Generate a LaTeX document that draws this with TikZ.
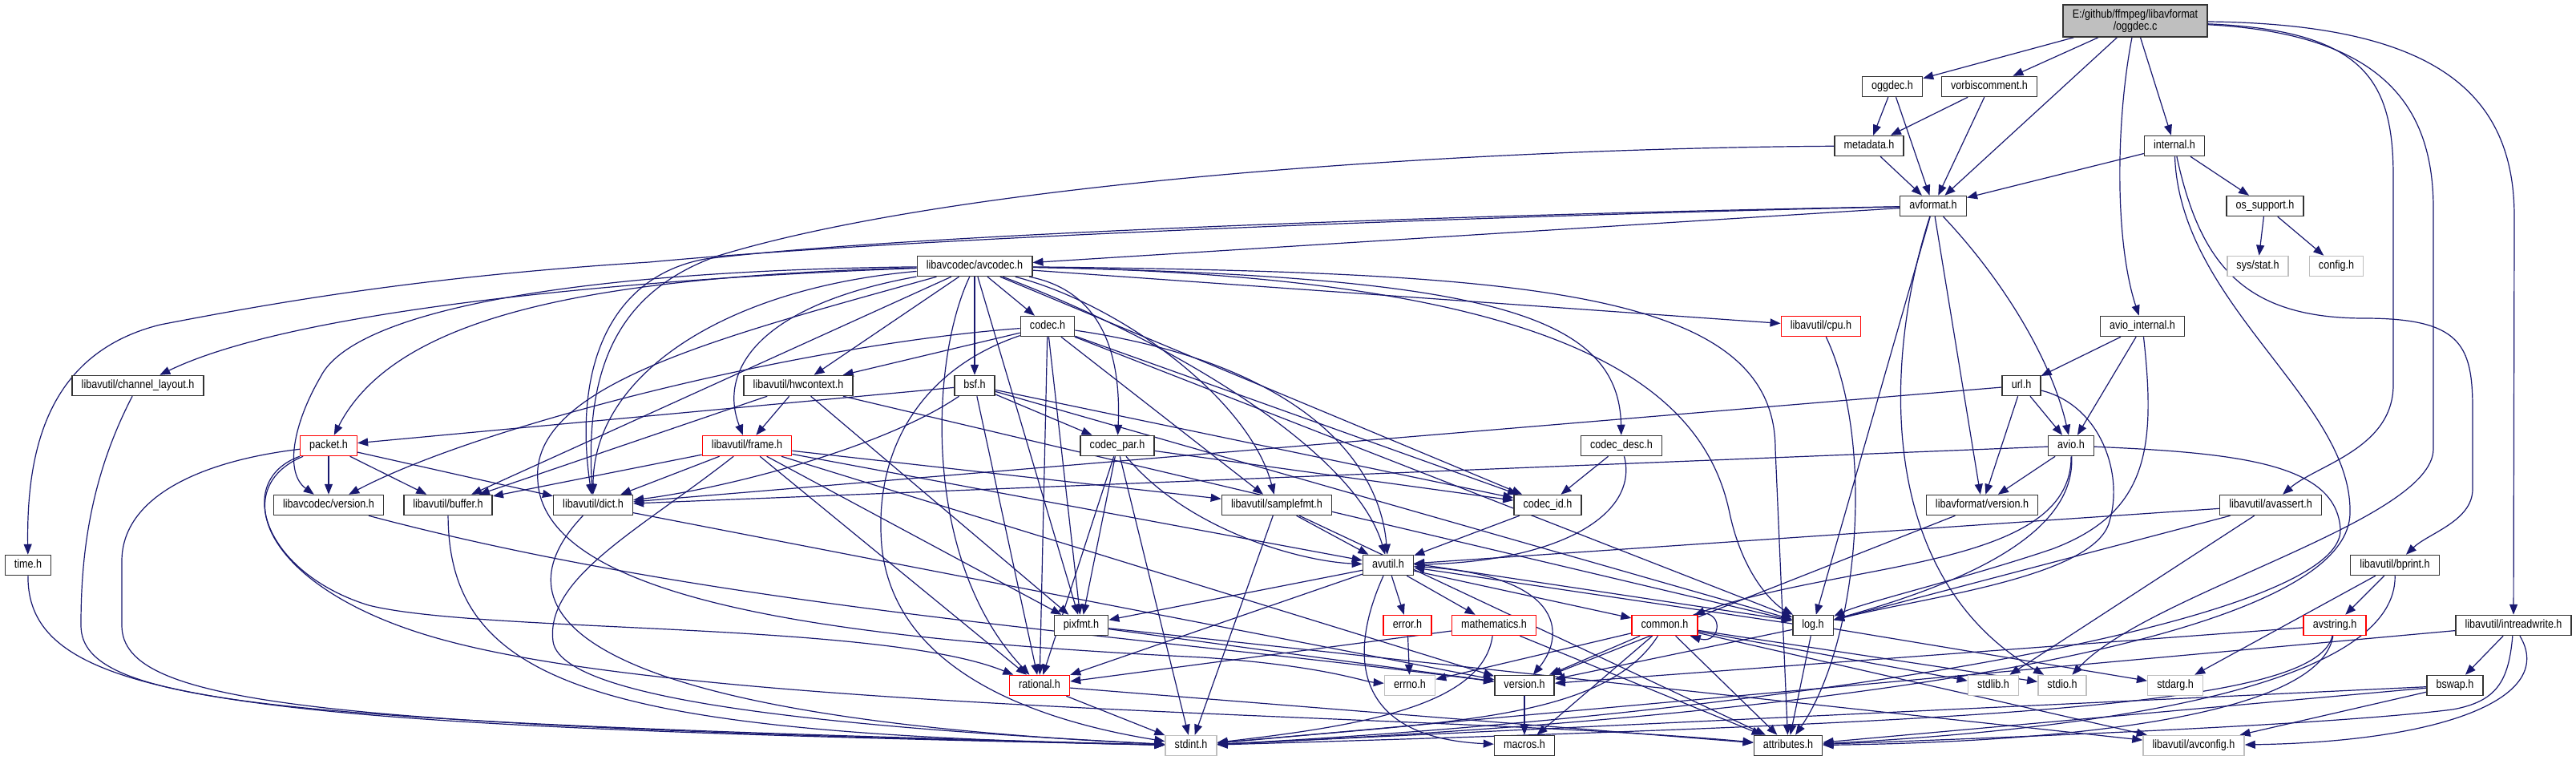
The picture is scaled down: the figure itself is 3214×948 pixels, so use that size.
\documentclass[tikz,border=0pt]{standalone}
\usepackage{fontspec}
\setmainfont[FakeStretch=0.85]{Liberation Sans}
\usetikzlibrary{arrows.meta}
\definecolor{edgec}{HTML}{191970}
\definecolor{lgray}{HTML}{BFBFBF}
\definecolor{bdcol}{HTML}{333333}
\definecolor{redbd}{HTML}{FF0000}
\newcommand\nfont{\fontsize{7.4}{8}\selectfont}
\newcommand\rfont{\fontsize{7.4}{7.6}\selectfont}
\pgfdeclarelayer{bg}
\pgfdeclarelayer{paper}
\pgfsetlayers{paper,bg,main}
\begin{document}
\begin{tikzpicture}[x=0.5pt,y=-0.5pt,
  box/.style={draw=bdcol, line width=0.75pt, fill=white, inner xsep=5.8pt, inner ysep=0pt, minimum height=12.5pt, text height=5.3pt, text depth=1.5pt, font=\nfont},
  rbox/.style={box, draw=redbd},
  gbox/.style={box, draw=lgray},
  rootbox/.style={draw=bdcol, line width=0.75pt, fill=lgray, align=center, inner xsep=5.8pt, inner ysep=1pt, minimum height=20pt, font=\rfont},
  e/.style={draw=edgec, line width=0.6pt, -{Triangle[length=6.5pt,width=5pt]}}]
\begin{pgfonlayer}{paper}
\fill[white] (0,0) rectangle (3214,948);
\end{pgfonlayer}
\useasboundingbox (0,0) rectangle (3214,948);

\node[rootbox] (root) at (2664,26) {E:/github/ffmpeg/libavformat\\/oggdec.c};
\node[box] (oggdech) at (2361,108) {oggdec.h};
\node[box] (vorbis) at (2482,108) {vorbiscomment.h};
\node[box] (metadata) at (2332,182) {metadata.h};
\node[box] (internal) at (2713,182) {internal.h};
\node[box] (avformat) at (2412,257) {avformat.h};
\node[box] (ossupport) at (2826,257) {os\_support.h};
\node[gbox] (sysstat) at (2817,332) {sys/stat.h};
\node[gbox] (config) at (2915,332) {config.h};
\node[box] (avcodec) at (1216,332) {libavcodec/avcodec.h};
\node[rbox] (cpu) at (2272,407) {libavutil/cpu.h};
\node[box] (codec) at (1307,407) {codec.h};
\node[box] (aviointernal) at (2673,407) {avio\_internal.h};
\node[box] (chlayout) at (172,481) {libavutil/channel\_layout.h};
\node[box] (hwcontext) at (996,481) {libavutil/hwcontext.h};
\node[box] (bsf) at (1216,481) {bsf.h};
\node[box] (url) at (2522,481) {url.h};
\node[rbox] (packet) at (410,556) {packet.h};
\node[rbox] (frame) at (932,556) {libavutil/frame.h};
\node[box] (codecpar) at (1394,556) {codec\_par.h};
\node[box] (codecdesc) at (2023,556) {codec\_desc.h};
\node[box] (avio) at (2584,556) {avio.h};
\node[box] (lavcversion) at (410,630) {libavcodec/version.h};
\node[box] (buffer) at (559,630) {libavutil/buffer.h};
\node[box] (dict) at (740,630) {libavutil/dict.h};
\node[box] (samplefmt) at (1593,630) {libavutil/samplefmt.h};
\node[box] (codecid) at (1931,630) {codec\_id.h};
\node[box] (lavfversion) at (2473,630) {libavformat/version.h};
\node[box] (avassert) at (2833,630) {libavutil/avassert.h};
\node[box] (time) at (35,705) {time.h};
\node[box] (avutil) at (1732,705) {avutil.h};
\node[box] (bprint) at (2988,705) {libavutil/bprint.h};
\node[box] (pixfmt) at (1349,780) {pixfmt.h};
\node[rbox] (error) at (1756,780) {error.h};
\node[rbox] (mathematics) at (1864,780) {mathematics.h};
\node[rbox] (common) at (2077,780) {common.h};
\node[box] (log) at (2262,780) {log.h};
\node[rbox] (avstring) at (2913,780) {avstring.h};
\node[box] (intreadwrite) at (3136,780) {libavutil/intreadwrite.h};
\node[rbox] (rational) at (1297,855) {rational.h};
\node[gbox] (errno) at (1759,855) {errno.h};
\node[box] (version) at (1902,855) {version.h};
\node[gbox] (stdlib) at (2487,855) {stdlib.h};
\node[gbox] (stdio) at (2573,855) {stdio.h};
\node[gbox] (stdarg) at (2714,855) {stdarg.h};
\node[box] (bswap) at (3063,855) {bswap.h};
\node[gbox] (stdint) at (1486,930) {stdint.h};
\node[box] (macros) at (1902,930) {macros.h};
\node[box] (attributes) at (2231,930) {attributes.h};
\node[gbox] (avconfig) at (2737,930) {libavutil/avconfig.h};

\begin{pgfonlayer}{bg}
\foreach \a/\b in {root/oggdech, root/vorbis, root/avformat, root/internal,
 oggdech/avformat, oggdech/metadata, vorbis/avformat, vorbis/metadata, metadata/avformat,
 internal/avformat, internal/ossupport, ossupport/sysstat, ossupport/config,
 avformat/avcodec, avformat/log, avformat/lavfversion,
 aviointernal/url, aviointernal/avio,
 url/avio, url/lavfversion, url/dict,
 avio/lavfversion, avio/dict,
 lavfversion/version,
 avcodec/buffer, avcodec/cpu, avcodec/hwcontext, avcodec/pixfmt, avcodec/bsf, avcodec/codec, avcodec/codecid,
 codec/hwcontext, codec/log, codec/pixfmt, codec/rational, codec/samplefmt, codec/codecid,
 bsf/log, bsf/rational, bsf/codecid, bsf/codecpar, bsf/packet,
 codecpar/stdint, codecpar/rational, codecpar/pixfmt, codecpar/codecid,
 codecdesc/codecid, codecid/avutil,
 packet/buffer, packet/dict, packet/lavcversion,
 hwcontext/buffer, hwcontext/frame, hwcontext/log, hwcontext/pixfmt,
 frame/avutil, frame/buffer, frame/dict, frame/rational, frame/samplefmt, frame/pixfmt, frame/version,
 samplefmt/stdint, samplefmt/avutil, samplefmt/attributes,
 dict/version,
 avutil/common, avutil/error, avutil/rational, avutil/mathematics, avutil/pixfmt,
 log/stdarg, log/attributes, log/version,
 common/errno, common/stdio, common/stdlib, common/attributes, common/macros, common/version, common/avconfig,
 error/errno, mathematics/attributes, mathematics/rational,
 rational/stdint, rational/attributes, pixfmt/avconfig, pixfmt/version, version/macros,
 avassert/stdlib, avassert/avutil, avassert/log,
 bprint/stdarg, bprint/avstring, avstring/version,
 intreadwrite/stdint, intreadwrite/bswap,
 bswap/stdint, bswap/avconfig, bswap/attributes}
 \draw[e] (\a) -- (\b);

\draw[e] (root) .. controls (2640,150) and (2638,300) .. (aviointernal);
\draw[e] (root) .. controls (2950,38) and (2986,100) .. (2986,220) -- (2986,480) .. controls (2986,560) and (2890,580) .. (avassert);
\draw[e] (root) .. controls (2970,42) and (3036,130) .. (3036,260) -- (3036,560) .. controls (3036,650) and (2680,740) .. (stdio);
\draw[e] (root) .. controls (3030,30) and (3137,110) .. (3137,270) -- (intreadwrite);
\draw[e] (metadata) .. controls (1850,185) and (1200,225) .. (893,320) .. controls (770,365) and (730,460) .. (dict);
\draw[e] (avformat) .. controls (1900,266) and (1150,290) .. (880,323) .. controls (760,345) and (715,460) .. (dict);
\draw[e] (avformat) .. controls (1900,268) and (1150,295) .. (810,327) .. controls (520,345) and (330,380) .. (200,405) .. controls (60,440) and (33,560) .. (time);
\draw[e] (avformat) .. controls (2350,450) and (2340,720) .. (stdio);
\draw[e] (avformat) .. controls (2500,350) and (2560,450) .. (avio);
\draw[e] (internal) .. controls (2720,380) and (2935,500) .. (2932,640) .. controls (2930,800) and (2300,893) .. (stdint);
\draw[e] (internal) .. controls (2745,330) and (2800,397) .. (2950,397) .. controls (3070,397) and (3085,430) .. (3085,510) -- (3085,610) .. controls (3085,650) and (3030,665) .. (bprint);
\draw[e] (aviointernal) .. controls (2690,560) and (2680,640) .. (2560,685) .. controls (2450,722) and (2330,750) .. (log);
\draw[e] (url) .. controls (2620,505) and (2650,590) .. (2632,650) .. controls (2615,720) and (2400,745) .. (log);
\draw[e] (avio) .. controls (2800,565) and (2915,580) .. (2920,660) .. controls (2925,780) and (2200,893) .. (stdint);
\draw[e] (avio) .. controls (2590,670) and (2440,730) .. (log);
\draw[e] (avio) .. controls (2585,710) and (2300,700) .. (common);

\draw[e] (avcodec) .. controls (900,420) and (660,480) .. (671,600) .. controls (680,760) and (1100,800) .. (1500,820) .. controls (1650,830) and (1700,850) .. (errno);
\draw[e] (avcodec) .. controls (1900,340) and (2215,360) .. (2215,560) -- (attributes);
\draw[e] (avcodec) .. controls (1850,345) and (2020,390) .. (codecdesc);
\draw[e] (avcodec) .. controls (1950,345) and (2125,480) .. (2158,640) .. controls (2175,720) and (2215,755) .. (log);
\draw[e] (avcodec) .. controls (850,345) and (380,380) .. (chlayout);
\draw[e] (avcodec) .. controls (750,345) and (495,390) .. (packet);
\draw[e] (avcodec) .. controls (700,338) and (440,390) .. (400,470) .. controls (365,530) and (355,590) .. (lavcversion);
\draw[e] (avcodec) .. controls (900,360) and (740,470) .. (dict);
\draw[e] (avcodec) .. controls (1360,360) and (1400,420) .. (codecpar);
\draw[e] (avcodec) .. controls (1450,420) and (1690,560) .. (avutil);
\draw[e] (avcodec) .. controls (1160,450) and (1150,700) .. (rational);
\draw[e] (avcodec) .. controls (1400,380) and (1560,500) .. (samplefmt);
\draw[e] (avcodec) .. controls (950,380) and (895,460) .. (frame);
\draw[e] (codec) .. controls (1150,460) and (1090,560) .. (1100,680) .. controls (1115,840) and (1300,900) .. (stdint);
\draw[e] (codec) .. controls (1000,430) and (600,530) .. (lavcversion);
\draw[e] (codec) .. controls (1600,450) and (1720,560) .. (avutil);
\draw[e] (bsf) .. controls (1100,560) and (900,610) .. (dict);
\draw[e] (codecpar) .. controls (1480,660) and (1620,700) .. (avutil);
\draw[e] (packet) .. controls (250,575) and (152,620) .. (152,700) -- (152,780) .. controls (152,880) and (400,905) .. (stdint);
\draw[e] (packet) .. controls (290,600) and (330,715) .. (460,755) .. controls (600,790) and (1100,775) .. (rational);
\draw[e] (packet) .. controls (280,610) and (330,740) .. (560,800) .. controls (900,890) and (1800,890) .. (attributes);
\draw[e] (frame) .. controls (800,660) and (680,720) .. (690,800) .. controls (700,870) and (1000,905) .. (stdint);
\draw[e] (buffer) .. controls (560,860) and (760,915) .. (stdint);
\draw[e] (dict) .. controls (635,740) and (640,890) .. (stdint);
\draw[e] (chlayout) .. controls (110,600) and (101,700) .. (101,780) .. controls (101,880) and (350,900) .. (stdint);
\draw[e] (time) .. controls (34,880) and (300,905) .. (stdint);
\draw[e] (lavcversion) .. controls (900,760) and (1400,790) .. (version);
\draw[e] (cpu) .. controls (2340,550) and (2320,800) .. (attributes);
\draw[e] (avutil) .. controls (1680,820) and (1690,920) .. (macros);
\draw[e] (avutil) .. controls (1950,715) and (1955,790) .. (version);
\draw[e] ([yshift=1pt]avutil.east) -- ([yshift=3pt]log.west);
\draw[e] ([yshift=1pt]log.west) -- ([yshift=-1.5pt]avutil.east);
\draw[e] (common) .. controls (2000,900) and (1800,900) .. (stdint);
\draw[e] ([xshift=-3pt]common.north east) .. controls +(40,-12) and +(40,12) .. ([xshift=-5pt]common.south east);
\draw[e] (mathematics) .. controls (1850,880) and (1700,905) .. (stdint);
\draw[e] (codecdesc) .. controls (2045,640) and (1950,700) .. (avutil);
\draw[e] (bprint) .. controls (2990,840) and (2700,905) .. (attributes);
\draw[e] (avstring) .. controls (2890,880) and (2500,900) .. (stdint);
\draw[e] (avstring) .. controls (2895,890) and (2600,925) .. (attributes);
\draw[e] (intreadwrite) .. controls (3130,850) and (3115,875) .. (3060,885) .. controls (2900,905) and (2500,920) .. (attributes);
\draw[e] (intreadwrite) .. controls (3190,870) and (3050,925) .. (avconfig);
\end{pgfonlayer}
\end{tikzpicture}
\end{document}
